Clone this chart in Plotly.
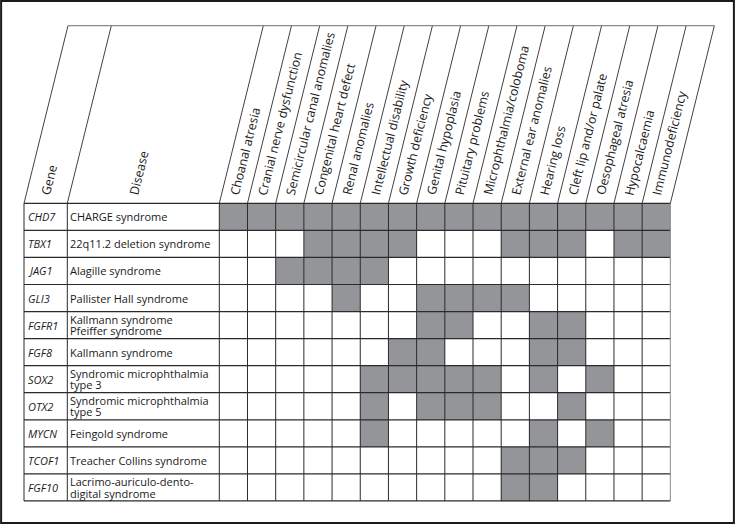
import plotly.graph_objects as go

# ---------------- data ----------------
genes = ["CHD7", "TBX1", "JAG1", "GLI3", "FGFR1", "FGF8", "SOX2", "OTX2", "MYCN", "TCOF1", "FGF10"]
diseases = [
    "CHARGE syndrome",
    "22q11.2 deletion syndrome",
    "Alagille syndrome",
    "Pallister Hall syndrome",
    "Kallmann syndrome\nPfeiffer syndrome",
    "Kallmann syndrome",
    "Syndromic microphthalmia\ntype 3",
    "Syndromic microphthalmia\ntype 5",
    "Feingold syndrome",
    "Treacher Collins syndrome",
    "Lacrimo-auriculo-dento-\ndigital syndrome",
]
symptoms = [
    "Choanal atresia", "Cranial nerve dysfunction", "Semicircular canal anomalies",
    "Congenital heart defect", "Renal anomalies", "Intellectual disability",
    "Growth deficiency", "Genital hypoplasia", "Pituitary problems",
    "Microphthalmia/coloboma", "External ear anomalies", "Hearing loss",
    "Cleft lip and/or palate", "Oesophageal atresia", "Hypocalcaemia", "Immunodeficiency",
]
# 1 = feature present (grey cell)
presence = [
    [1, 1, 1, 1, 1, 1, 1, 1, 1, 1, 1, 1, 1, 1, 1, 1],  # CHD7
    [0, 0, 0, 1, 1, 1, 1, 0, 0, 0, 1, 1, 1, 0, 1, 1],  # TBX1
    [0, 0, 1, 1, 1, 1, 0, 0, 0, 0, 0, 0, 0, 0, 0, 0],  # JAG1
    [0, 0, 0, 0, 1, 0, 0, 1, 1, 1, 1, 0, 0, 0, 0, 0],  # GLI3
    [0, 0, 0, 0, 0, 0, 0, 1, 1, 0, 0, 1, 1, 0, 0, 0],  # FGFR1
    [0, 0, 0, 0, 0, 0, 1, 1, 0, 0, 0, 1, 1, 0, 0, 0],  # FGF8
    [0, 0, 0, 0, 0, 1, 1, 1, 1, 1, 0, 1, 0, 1, 0, 0],  # SOX2
    [0, 0, 0, 0, 0, 1, 0, 1, 1, 1, 0, 0, 1, 0, 0, 0],  # OTX2
    [0, 0, 0, 0, 0, 1, 0, 0, 0, 0, 0, 1, 0, 1, 0, 0],  # MYCN
    [0, 0, 0, 0, 0, 0, 0, 0, 0, 0, 1, 1, 1, 0, 0, 0],  # TCOF1
    [0, 0, 0, 0, 0, 0, 0, 0, 0, 0, 1, 1, 0, 0, 0, 0],  # FGF10
]

# ---------------- layout constants (pixels) ----------------
W, H = 735, 524
COL_W = 28.19          # px per symptom column
ROW_H = 27.06          # px per row
GRID_LEFT_PX = 219.3   # left edge of first symptom column
HEAD_BOTTOM_PX = 203.3
HEAD_TOP_PX = 25.7
GENE_LEFT_PX = 24.0
DIS_LEFT_PX = 67.3
SLANT_PX = 44.0

FONT = "Open Sans"
GREY = "#939598"
LINE = "#2b2b2b"

ncol = len(symptoms)
nrow = len(genes)

# data coordinates: column i centred on i, row j centred on j
x_min = -0.5 - GRID_LEFT_PX / COL_W
x_max = x_min + W / COL_W
y_min = -0.5 - HEAD_BOTTOM_PX / ROW_H
y_max = y_min + H / ROW_H

def px_x(px):
    return x_min + px / COL_W

def px_y(px):
    return y_min + px / ROW_H

gene_left = px_x(GENE_LEFT_PX)
dis_left = px_x(DIS_LEFT_PX)
y_top = px_y(HEAD_TOP_PX)
slant = SLANT_PX / COL_W
y_head = -0.5
y_bot = nrow - 0.5
x_right = ncol - 0.5

fig = go.Figure()
fig.add_trace(go.Heatmap(
    z=presence, x=list(range(ncol)), y=list(range(nrow)),
    colorscale=[[0, "#ffffff"], [1, GREY]], zmin=0, zmax=1,
    showscale=False, hoverinfo="skip",
))

shapes = []
# horizontal lines of body
for k in range(nrow + 1):
    shapes.append(dict(type="line", x0=gene_left, x1=x_right, y0=k - 0.5, y1=k - 0.5,
                       line=dict(color=LINE, width=1.2)))
# vertical lines in body + slanted header lines
verticals = [gene_left, dis_left] + [i - 0.5 for i in range(ncol + 1)]
for xv in verticals:
    col = "#8a8a8a" if xv == x_right else LINE
    shapes.append(dict(type="line", x0=xv, x1=xv, y0=y_head, y1=y_bot,
                       line=dict(color=col, width=1)))
    shapes.append(dict(type="line", x0=xv, x1=xv + slant, y0=y_head, y1=y_top,
                       line=dict(color=LINE, width=0.9)))
# header top line
shapes.append(dict(type="line", x0=gene_left + slant, x1=x_right + slant, y0=y_top, y1=y_top,
                   line=dict(color="#8a8a8a", width=1.2)))
# outer frame
shapes.append(dict(type="rect", xref="paper", yref="paper", x0=0.0015, x1=0.9985, y0=0.002, y1=0.998,
                   line=dict(color="#1a1a1a", width=2)))

annotations = []
# gene + disease labels
for j, (g, d) in enumerate(zip(genes, diseases)):
    annotations.append(dict(x=gene_left, y=j, text=g, xanchor="left", yanchor="middle",
                            xshift=2, showarrow=False,
                            font=dict(family=FONT, size=11, color="#1a1a1a", style="italic")))
    lines = d.split("\n")
    n = len(lines)
    for k, ln in enumerate(lines):
        annotations.append(dict(x=dis_left, y=j, text=ln, xanchor="left", yanchor="middle",
                                xshift=1, yshift=(n - 1) * 5.6 - k * 11.2, showarrow=False,
                                font=dict(family=FONT, size=11, color="#1a1a1a")))

# header labels (rotated)
ANGLE = -76
headers = [("Gene", gene_left, 11), ("Disease", dis_left, 56)] + \
          [(s, i - 0.5, 4) for i, s in enumerate(symptoms)]
for txt, xl, off in headers:
    annotations.append(dict(x=xl, y=y_head, text=txt, textangle=ANGLE,
                            xanchor="left", yanchor="bottom", xshift=off, yshift=4,
                            showarrow=False,
                            font=dict(family=FONT, size=12.4, color="#1a1a1a")))

fig.update_layout(
    width=W, height=H, margin=dict(l=0, r=0, t=0, b=0),
    paper_bgcolor="white", plot_bgcolor="white",
    xaxis=dict(range=[x_min, x_max], visible=False, fixedrange=True),
    yaxis=dict(range=[y_max, y_min], visible=False, fixedrange=True),
    shapes=shapes, annotations=annotations, showlegend=False,
)
fig.write_html("out.html", config={"displayModeBar": False},
               post_script="document.body.style.margin='0';document.body.style.overflow='hidden';")
